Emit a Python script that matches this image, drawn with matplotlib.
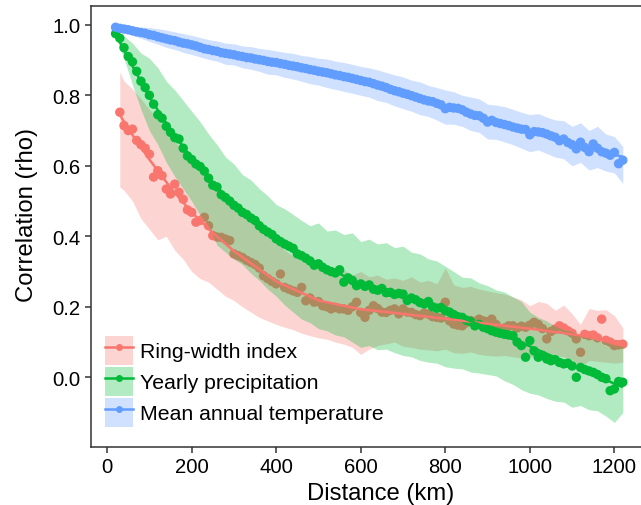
"""Spatial decay of correlation with distance for three climate/tree-ring series."""

import matplotlib

matplotlib.use("Agg")
import matplotlib.pyplot as plt
import numpy as np
from matplotlib.lines import Line2D
from matplotlib.patches import Patch

plt.rcParams["font.family"] = ["Liberation Sans", "DejaVu Sans"]

# distance bins (km) for the point series and the ribbon series
DIST_KM = np.arange(20, 1221, 10)
RED_DIST_KM = np.arange(30, 1221, 10)
BAND_KM = np.arange(20, 1221, 20)
RED_BAND_KM = np.concatenate(([30], np.arange(40, 1221, 20)))

LABELS = ["Ring-width index", "Yearly precipitation", "Mean annual temperature"]
COLORS = ["#F8766D", "#00BA38", "#619CFF"]

# Ring-width index: correlation per distance bin (30..1220 km)
RED_PTS = [
    0.752, 0.714, 0.700, 0.704, 0.672, 0.660, 0.650, 0.633, 0.568, 0.586,
    0.572, 0.534, 0.520, 0.548, 0.525, 0.505, 0.475, 0.468, 0.440, 0.445,
    0.454, 0.430, 0.402, 0.398, 0.397, 0.392, 0.388, 0.350, 0.345, 0.340,
    0.332, 0.326, 0.320, 0.310, 0.288, 0.280, 0.272, 0.265, 0.293, 0.255,
    0.250, 0.245, 0.241, 0.255, 0.217, 0.225, 0.213, 0.215, 0.203, 0.200,
    0.194, 0.198, 0.194, 0.194, 0.190, 0.200, 0.213, 0.184, 0.170, 0.190,
    0.203, 0.195, 0.185, 0.184, 0.190, 0.194, 0.180, 0.194, 0.185, 0.184,
    0.178, 0.175, 0.182, 0.179, 0.172, 0.170, 0.168, 0.213, 0.160, 0.151,
    0.148, 0.146, 0.155, 0.161, 0.158, 0.165, 0.160, 0.158, 0.165, 0.150,
    0.137, 0.140, 0.146, 0.146, 0.140, 0.145, 0.142, 0.148, 0.156, 0.150,
    0.138, 0.109, 0.130, 0.137, 0.146, 0.140, 0.132, 0.125, 0.109, 0.071,
    0.122, 0.118, 0.120, 0.112, 0.165, 0.105, 0.100, 0.090, 0.092, 0.094,
]

# Yearly precipitation (20..1220 km)
GREEN_PTS = [
    0.975, 0.962, 0.935, 0.910, 0.895, 0.868, 0.840, 0.822, 0.800, 0.775,
    0.745, 0.735, 0.712, 0.695, 0.680, 0.676, 0.650, 0.628, 0.618, 0.605,
    0.598, 0.585, 0.565, 0.545, 0.540, 0.518, 0.510, 0.500, 0.488, 0.480,
    0.468, 0.462, 0.452, 0.445, 0.430, 0.420, 0.412, 0.405, 0.393, 0.385,
    0.378, 0.372, 0.366, 0.350, 0.345, 0.338, 0.330, 0.318, 0.322, 0.312,
    0.305, 0.300, 0.296, 0.305, 0.270, 0.282, 0.275, 0.260, 0.265, 0.258,
    0.262, 0.250, 0.247, 0.252, 0.240, 0.241, 0.235, 0.238, 0.236, 0.218,
    0.225, 0.220, 0.212, 0.208, 0.215, 0.200, 0.196, 0.198, 0.189, 0.185,
    0.178, 0.172, 0.170, 0.162, 0.158, 0.146, 0.150, 0.142, 0.138, 0.132,
    0.128, 0.125, 0.122, 0.120, 0.118, 0.100, 0.090, 0.057, 0.104, 0.075,
    0.057, 0.062, 0.052, 0.047, 0.050, 0.042, 0.038, 0.040, 0.032, 0.000,
    0.028, 0.022, 0.018, 0.014, 0.008, 0.000, -0.004, -0.038, -0.033, -0.012,
    -0.014,
]

# Mean annual temperature (20..1220 km)
BLUE_PTS = [
    0.993, 0.990, 0.988, 0.986, 0.983, 0.980, 0.978, 0.976, 0.972, 0.970,
    0.966, 0.963, 0.960, 0.957, 0.955, 0.951, 0.948, 0.946, 0.943, 0.940,
    0.936, 0.932, 0.930, 0.927, 0.925, 0.921, 0.919, 0.917, 0.915, 0.912,
    0.910, 0.907, 0.906, 0.903, 0.901, 0.899, 0.896, 0.894, 0.893, 0.890,
    0.888, 0.885, 0.883, 0.881, 0.878, 0.876, 0.873, 0.871, 0.868, 0.866,
    0.864, 0.861, 0.858, 0.856, 0.853, 0.851, 0.848, 0.845, 0.842, 0.839,
    0.837, 0.833, 0.829, 0.826, 0.822, 0.817, 0.813, 0.810, 0.806, 0.803,
    0.799, 0.795, 0.791, 0.787, 0.784, 0.782, 0.777, 0.773, 0.762, 0.766,
    0.764, 0.763, 0.759, 0.752, 0.747, 0.743, 0.742, 0.735, 0.724, 0.729,
    0.723, 0.720, 0.717, 0.714, 0.710, 0.707, 0.704, 0.703, 0.688, 0.697,
    0.696, 0.694, 0.690, 0.685, 0.681, 0.671, 0.676, 0.666, 0.660, 0.648,
    0.667, 0.652, 0.640, 0.662, 0.650, 0.640, 0.636, 0.630, 0.638, 0.606,
    0.616,
]

# ribbon bounds (every 20 km)
RED_HI = [
    0.866, 0.840, 0.818, 0.790, 0.760, 0.730, 0.700, 0.670, 0.640, 0.615,
    0.590, 0.565, 0.540, 0.515, 0.490, 0.465, 0.445, 0.420, 0.400, 0.385,
    0.360, 0.345, 0.330, 0.325, 0.310, 0.318, 0.300, 0.305, 0.290, 0.300,
    0.285, 0.290, 0.278, 0.282, 0.275, 0.285, 0.270, 0.275, 0.265, 0.310,
    0.262, 0.255, 0.258, 0.250, 0.245, 0.240, 0.236, 0.228, 0.220, 0.203,
    0.215, 0.210, 0.190, 0.205, 0.180, 0.150, 0.195, 0.190, 0.192, 0.175,
    0.140,
]
RED_LO = [
    0.540, 0.530, 0.500, 0.450, 0.420, 0.390, 0.400, 0.360, 0.335, 0.300,
    0.280, 0.270, 0.250, 0.230, 0.218, 0.200, 0.185, 0.170, 0.160, 0.150,
    0.142, 0.135, 0.125, 0.118, 0.112, 0.108, 0.100, 0.094, 0.085, 0.065,
    0.080, 0.090, 0.095, 0.100, 0.088, 0.085, 0.080, 0.078, 0.075, 0.080,
    0.070, 0.068, 0.072, 0.065, 0.062, 0.060, 0.062, 0.058, 0.055, 0.058,
    0.060, 0.055, 0.062, 0.058, 0.050, 0.030, 0.048, 0.045, 0.043, 0.040,
    0.043,
]
GREEN_HI = [
    0.982, 0.968, 0.948, 0.920, 0.905, 0.878, 0.840, 0.815, 0.785, 0.755,
    0.725, 0.690, 0.660, 0.625, 0.605, 0.575, 0.560, 0.535, 0.515, 0.490,
    0.478, 0.462, 0.445, 0.430, 0.438, 0.415, 0.418, 0.405, 0.410, 0.385,
    0.392, 0.378, 0.382, 0.368, 0.372, 0.355, 0.350, 0.336, 0.330, 0.315,
    0.300, 0.284, 0.282, 0.268, 0.260, 0.248, 0.242, 0.228, 0.215, 0.185,
    0.170, 0.160, 0.145, 0.135, 0.130, 0.118, 0.112, 0.105, 0.100, 0.092,
    0.088,
]
GREEN_LO = [
    0.965, 0.905, 0.830, 0.760, 0.700, 0.660, 0.610, 0.570, 0.535, 0.500,
    0.460, 0.430, 0.375, 0.355, 0.335, 0.320, 0.295, 0.275, 0.250, 0.230,
    0.205, 0.185, 0.165, 0.155, 0.138, 0.132, 0.120, 0.115, 0.100, 0.085,
    0.090, 0.078, 0.080, 0.070, 0.062, 0.058, 0.048, 0.043, 0.040, 0.030,
    0.026, 0.024, 0.015, 0.012, 0.008, 0.004, -0.010, -0.020, -0.035, -0.045,
    -0.050, -0.060, -0.068, -0.070, -0.085, -0.080, -0.092, -0.095, -0.110, -0.128,
    -0.100,
]
BLUE_HI = [
    1.000, 0.998, 0.996, 0.994, 0.992, 0.989, 0.985, 0.980, 0.975, 0.970,
    0.964, 0.958, 0.954, 0.948, 0.946, 0.940, 0.938, 0.933, 0.930, 0.926,
    0.922, 0.919, 0.913, 0.910, 0.905, 0.903, 0.897, 0.893, 0.888, 0.882,
    0.878, 0.872, 0.865, 0.858, 0.852, 0.843, 0.838, 0.828, 0.822, 0.815,
    0.810, 0.800, 0.795, 0.790, 0.775, 0.772, 0.768, 0.760, 0.752, 0.745,
    0.748, 0.738, 0.730, 0.728, 0.712, 0.722, 0.700, 0.712, 0.690, 0.683,
    0.655,
]
BLUE_LO = [
    0.985, 0.978, 0.970, 0.962, 0.953, 0.945, 0.936, 0.930, 0.922, 0.916,
    0.909, 0.902, 0.897, 0.888, 0.886, 0.878, 0.874, 0.868, 0.860, 0.858,
    0.851, 0.846, 0.840, 0.833, 0.829, 0.822, 0.817, 0.811, 0.806, 0.800,
    0.795, 0.785, 0.780, 0.770, 0.762, 0.755, 0.745, 0.740, 0.730, 0.718,
    0.718, 0.712, 0.700, 0.695, 0.676, 0.675, 0.668, 0.660, 0.650, 0.640,
    0.645, 0.635, 0.625, 0.620, 0.600, 0.610, 0.588, 0.595, 0.585, 0.580,
    0.550,
]

# smoothed fits
FIT_KM = [20, 50, 100, 150, 200, 250, 300, 400, 500, 600, 700, 800, 900, 1000, 1100, 1200, 1220]
RED_FIT_KM = [30, 50, 100, 150, 200, 250, 300, 400, 500, 600, 700, 800, 900, 1000, 1100, 1200, 1220]
RED_FIT = [0.745, 0.705, 0.618, 0.538, 0.468, 0.410, 0.358, 0.272, 0.218, 0.193,
           0.180, 0.166, 0.152, 0.138, 0.122, 0.103, 0.099]
GREEN_FIT = [0.975, 0.905, 0.795, 0.702, 0.622, 0.552, 0.492, 0.395, 0.322, 0.265,
             0.225, 0.188, 0.140, 0.088, 0.035, -0.018, -0.028]
BLUE_FIT = [0.993, 0.986, 0.972, 0.957, 0.943, 0.928, 0.915, 0.892, 0.868, 0.842,
            0.807, 0.770, 0.733, 0.700, 0.665, 0.632, 0.625]

AXIS_COLOR = "#333333"


def main() -> None:
    W, H = 641, 506
    fig = plt.figure(figsize=(W / 100, H / 100), dpi=100)
    left, right, top, bottom = 90.5, 671.0, 7.3, 448.3
    ax = fig.add_axes([left / W, 1 - bottom / H, (right - left) / W, (bottom - top) / H])

    series = [
        (RED_DIST_KM, RED_PTS, RED_BAND_KM, RED_LO, RED_HI, RED_FIT_KM, RED_FIT),
        (DIST_KM, GREEN_PTS, BAND_KM, GREEN_LO, GREEN_HI, FIT_KM, GREEN_FIT),
        (DIST_KM, BLUE_PTS, BAND_KM, BLUE_LO, BLUE_HI, FIT_KM, BLUE_FIT),
    ]
    z = 1
    for (xk, pts, bk, lo, hi, fk, fit), color in zip(series, COLORS):
        ax.fill_between(bk, lo, hi, color=color, alpha=0.3, lw=0, zorder=z)
        ax.scatter(xk, pts, s=46, color=color, edgecolors="none", zorder=z + 1)
        ax.plot(fk, fit, color=color, lw=1.8, zorder=10, solid_capstyle="butt")
        z += 2

    ax.set_xlim(-39.3, 1334)
    ax.set_ylim(-0.1986, 1.0525)
    ax.set_xticks([0, 200, 400, 600, 800, 1000, 1200])
    ax.set_yticks([0.0, 0.2, 0.4, 0.6, 0.8, 1.0])
    ax.set_yticklabels(["0.0", "0.2", "0.4", "0.6", "0.8", "1.0"])
    ax.spines["right"].set_visible(False)
    for side in ["left", "bottom", "top"]:
        ax.spines[side].set_color(AXIS_COLOR)
        ax.spines[side].set_linewidth(1.1)
    ax.tick_params(direction="out", length=4.3, width=1.1, color=AXIS_COLOR,
                   labelsize=14.6, labelcolor="black", pad=3)

    fig.text(381 / W, 1 - 500 / H, "Distance (km)", fontsize=17.2,
             ha="center", va="baseline")
    fig.text(27 / W, 1 - 215 / H, "Correlation (rho)", fontsize=17.2,
             rotation=90, ha="center", va="center")

    handles = []
    for color in COLORS:
        patch = Patch(facecolor=color, alpha=0.3, edgecolor="none")
        line = Line2D([], [], color=color, lw=1.8, marker="o", markersize=5,
                      markeredgewidth=0)
        handles.append((patch, line))
    fig.legend(handles, LABELS, loc="upper left",
               bbox_to_anchor=(105 / W, 1 - 337 / H), frameon=False,
               borderpad=0, borderaxespad=0, fontsize=15.3,
               handlelength=1.32, handleheight=1.7, labelspacing=0.11,
               handletextpad=0.33, numpoints=1)

    fig.savefig("out.png", dpi=100)
    plt.close(fig)


if __name__ == "__main__":
    main()
